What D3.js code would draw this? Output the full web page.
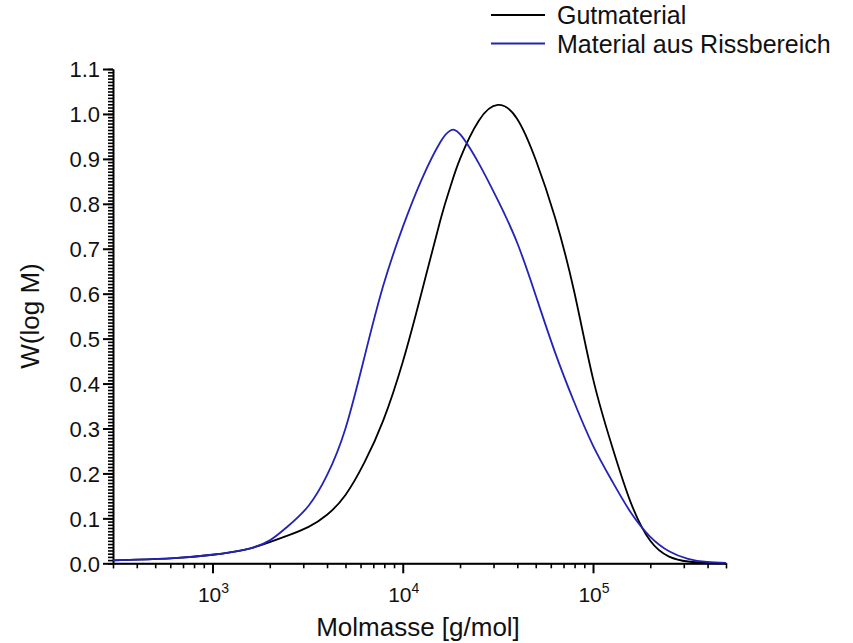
<!DOCTYPE html>
<html lang="de">
<head>
<meta charset="utf-8">
<title>Molmassenverteilung</title>
<script src="https://d3js.org/d3.v7.min.js"></script>
<style>
    body { margin: 0; background: #fff; }
    text { font-family: "Liberation Sans", Arial, sans-serif; fill: #111; }
    .axis path, .axis line { stroke: #000; }
</style>
</head>
<body>
<svg width="853" height="643"></svg>
<script>
// Molmasse [g/mol]
const molmasse = [300, 400, 630, 1000, 1260, 1600, 2000, 2500, 3200, 4000, 5000, 6300, 7900,
    10000, 12600, 15800, 17800, 20000, 25100, 31600, 39800, 50100, 63100, 79400,
    100000, 126000, 158000, 200000, 251000, 316000, 398000, 500000];

// W(log M)
const gutmaterial = [0.0065, 0.008, 0.0115, 0.019, 0.025, 0.034, 0.047, 0.062, 0.081, 0.108, 0.152, 0.225, 0.318,
    0.448, 0.605, 0.765, 0.838, 0.900, 0.985, 1.020, 0.990, 0.897, 0.770, 0.607,
    0.411, 0.260, 0.135, 0.050, 0.015, 0.004, 0.001, 0.000];

const rissbereich = [0.0065, 0.008, 0.0115, 0.019, 0.025, 0.034, 0.051, 0.083, 0.128, 0.196, 0.300, 0.460, 0.618,
    0.748, 0.855, 0.938, 0.963, 0.955, 0.890, 0.808, 0.715, 0.595, 0.470, 0.360,
    0.262, 0.183, 0.113, 0.059, 0.027, 0.010, 0.003, 0.001];

const seriesNames = ["Gutmaterial", "Material aus Rissbereich"];
const seriesColors = ["#000000", "#2323b8"];

const xMajor = [1e3, 1e4, 1e5];
const xExp = ["3", "4", "5"];
const yMajor = d3.range(0, 11.5).map(d => d / 10);

const svg = d3.select("svg");
const m = {left: 113, right: 726, top: 69, bottom: 563.3};

const x = d3.scaleLog().domain([300, 500000]).range([m.left, m.right]);
const y = d3.scaleLinear().domain([0, 1.1]).range([m.bottom, m.top]);

// minor ticks on the log axis: 2..9 of each decade inside the domain
let xMinor = [];
[100, 1000, 10000, 100000].forEach(dec => {
    for (let k = 2; k <= 9; k++) {
        const v = dec * k;
        if (v >= 300 && v <= 500000) xMinor.push(v);
    }
});
const yMinor = d3.range(0, 1.1001, 0.1 / 14);

// axes
svg.append("g").attr("class", "axis")
    .attr("transform", `translate(0,${m.bottom})`)
    .call(d3.axisBottom(x).tickValues(xMinor).tickSize(5).tickFormat(""))
    .call(g => g.selectAll("line").attr("stroke-width", 1.6));

svg.append("g").attr("class", "axis")
    .attr("transform", `translate(0,${m.bottom})`)
    .call(d3.axisBottom(x).tickValues(xMajor).tickSize(10).tickSizeOuter(0).tickFormat(""))
    .call(g => g.select("path").attr("stroke-width", 2))
    .call(g => g.selectAll("line").attr("stroke-width", 2));

svg.append("g").attr("class", "axis")
    .attr("transform", `translate(${m.left},0)`)
    .call(d3.axisLeft(y).tickValues(yMinor).tickSize(5).tickFormat(""))
    .call(g => g.selectAll("line").attr("stroke-width", 1.6));

svg.append("g").attr("class", "axis")
    .attr("transform", `translate(${m.left},0)`)
    .call(d3.axisLeft(y).tickValues(yMajor).tickSize(10).tickSizeOuter(0).tickFormat(d3.format(".1f")))
    .call(g => g.select("path").attr("stroke-width", 2))
    .call(g => g.selectAll("line").attr("stroke-width", 2))
    .call(g => g.selectAll("text").attr("font-size", 22).attr("x", -13).attr("dy", "0.36em"));

// x tick labels with superscripts
const xl = svg.append("g");
xMajor.forEach((v, i) => {
    const t = xl.append("text")
        .attr("x", x(v) + 1)
        .attr("y", 602)
        .attr("text-anchor", "middle")
        .attr("font-size", 21);
    t.append("tspan").text("10");
    t.append("tspan").attr("font-size", 14).attr("dy", -9).text(xExp[i]);
});

// axis titles
svg.append("text")
    .attr("x", 418).attr("y", 636)
    .attr("text-anchor", "middle")
    .attr("font-size", 26)
    .text("Molmasse [g/mol]");

svg.append("text")
    .attr("transform", "translate(39,316) rotate(-90)")
    .attr("text-anchor", "middle")
    .attr("font-size", 26)
    .text("W(log M)");

// curves
const line = d3.line()
    .x(d => x(d[0]))
    .y(d => y(d[1]))
    .curve(d3.curveNatural);

[gutmaterial, rissbereich].forEach((vals, i) => {
    svg.append("path")
        .datum(molmasse.map((mm, j) => [mm, vals[j]]))
        .attr("fill", "none")
        .attr("stroke", seriesColors[i])
        .attr("stroke-width", 1.8)
        .attr("d", line);
});

// legend
const legend = svg.append("g");
seriesNames.forEach((name, i) => {
    const ly = 15 + i * 28.5;
    legend.append("line")
        .attr("x1", 491).attr("x2", 545)
        .attr("y1", ly).attr("y2", ly)
        .attr("stroke", seriesColors[i])
        .attr("stroke-width", 1.8);
    legend.append("text")
        .attr("x", 557).attr("y", ly + 9)
        .attr("font-size", 25)
        .text(name);
});
</script>
</body>
</html>
